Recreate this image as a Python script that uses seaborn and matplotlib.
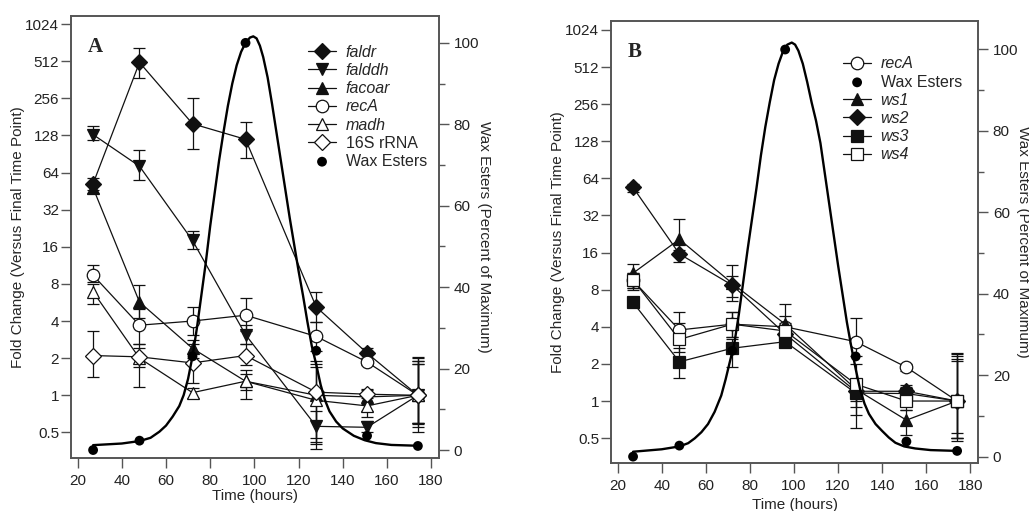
import matplotlib
matplotlib.use("Agg")
import matplotlib.pyplot as plt
import seaborn as sns
from matplotlib.ticker import NullLocator, MultipleLocator

# ---- data ----
HOURS = [27, 48, 72, 96, 128, 151, 174]

# panel A (fold change, value / lower / upper)
FALDR = [52, 500, 159, 119, 5.2, 2.2, 1.0]
FALDR_LO = [46, 375, 100, 84, 3.9, 2.0, 0.6]
FALDR_HI = [58, 660, 256, 165, 6.9, 2.4, 1.9]
FALDDH = [130, 72, 18, 3.1, 0.56, 0.55, 1.0]
FALDDH_LO = [117, 56, 15.3, 2.6, 0.37, 0.5, 0.55]
FALDDH_HI = [152, 97, 21.4, 3.7, 0.75, 0.62, 1.8]
FACOAR = [48, 5.7, 2.4, 1.3, 1.0, 0.97, 1.0]
FACOAR_LO = [44, 4.2, 2.0, 1.1, 0.42, 0.85, 0.5]
FACOAR_HI = [52, 7.9, 2.8, 1.5, 1.8, 1.1, 2.0]
RECA_A = [9.4, 3.7, 4.0, 4.46, 3.0, 1.86, 1.0]
RECA_A_LO = [8.3, 2.6, 3.1, 3.3, 2.3, 1.75, 0.6]
RECA_A_HI = [11.3, 5.0, 5.2, 6.1, 3.9, 2.0, 1.9]
MADH = [6.9, 2.0, 1.05, 1.3, 0.91, 0.82, 1.0]
MADH_LO = [5.5, 1.16, 0.95, 0.93, 0.4, 0.67, 0.58]
MADH_HI = [8.0, 2.6, 1.15, 1.6, 1.7, 0.95, 1.8]
RRNA = [2.1, 2.05, 1.83, 2.1, 1.06, 1.02, 1.0]
RRNA_LO = [1.4, 1.7, 1.25, 1.75, 0.45, 0.75, 0.6]
RRNA_HI = [3.3, 2.4, 2.6, 2.6, 1.9, 1.13, 2.04]

WAX_A = [0, 2.3, 23, 100, 24.4, 3.5, 1.0]
CURVE_A_T = [27, 40, 48, 53, 57, 60, 63, 66, 68, 70, 72, 74, 76, 78, 80, 82,
             84, 86, 88, 90, 92, 94, 96, 98, 99.5, 101, 102.5, 104, 106, 108,
             110, 112, 114, 116, 118, 120, 122, 124, 126, 128, 130, 132, 134,
             137, 140, 145, 150, 155, 162, 174]
CURVE_A_Y = [1.2, 1.6, 2.2, 3.0, 4.5, 6, 8.2, 10.8, 13.5, 17.5, 23, 30, 38,
             46, 55, 63, 71, 78, 84.5, 90, 94.5, 97.8, 100, 101.3, 101.6,
             101.1, 99.3, 96.5, 91.5, 85, 78, 71, 64, 57, 50.5, 44, 38, 31.5,
             25.5, 21, 16, 12.2, 9.5, 7, 5.3, 3.5, 2.4, 1.7, 1.25, 1.05]

# panel B
RECA_B = [9.5, 3.77, 4.2, 4.0, 3.03, 1.88, 1.0]
RECA_B_LO = [8.2, 2.9, 3.3, 3.3, 2.3, 1.75, 0.5]
RECA_B_HI = [11.0, 5.3, 5.3, 6.1, 4.7, 2.0, 2.44]
WS1 = [10.9, 20.5, 9.0, 4.2, 1.25, 0.7, 1.0]
WS1_LO = [8.0, 16.0, 6.5, 3.5, 0.77, 0.53, 0.5]
WS1_HI = [12.9, 29.8, 12.7, 4.9, 1.5, 0.85, 2.2]
WS2 = [54, 15.6, 8.7, 3.5, 1.2, 1.2, 1.0]
WS2_LO = [50, 13.3, 7.0, 3.2, 1.0, 1.05, 0.55]
WS2_HI = [58, 16.7, 10.3, 3.9, 1.5, 1.35, 2.3]
WS3 = [6.3, 2.08, 2.68, 3.03, 1.16, 1.15, 1.0]
WS3_LO = [5.8, 1.53, 1.9, 2.72, 0.9, 1.0, 0.47]
WS3_HI = [6.9, 2.7, 3.2, 3.4, 1.5, 1.3, 2.1]
WS4 = [9.6, 3.16, 4.2, 3.7, 1.37, 1.0, 1.0]
WS4_LO = [8.3, 2.5, 3.3, 3.3, 0.6, 0.85, 0.5]
WS4_HI = [11.0, 4.3, 5.3, 4.3, 2.0, 1.2, 2.4]

WAX_B = [0, 2.7, 26, 100, 24.6, 3.7, 1.4]
CURVE_B_T = [27, 40, 48, 52, 55, 58, 61, 64, 67, 69, 71, 73, 75, 77, 79, 81,
             83, 85, 87, 89, 91, 93, 95, 97, 99, 100.5, 102, 104, 106, 108,
             110, 112, 114, 116, 118, 120, 122, 124, 126, 128, 130, 132, 134,
             137, 140, 143, 146, 150, 155, 162, 174]
CURVE_B_Y = [1.2, 1.8, 2.5, 3.3, 4.5, 6, 8, 11, 15, 19, 23.5, 28, 35, 43, 51,
             58.5, 66, 74, 81, 87, 92.5, 96.5, 99.5, 101.2, 101.7, 101.2,
             99.7, 96.5, 92, 87, 82.5, 77, 69.5, 62, 54.5, 47, 40, 33, 27,
             21.5, 16.5, 13, 10.5, 8, 6.3, 4.7, 3.4, 2.5, 2.0, 1.6, 1.4]

FOLD_TICKS = [0.5, 1, 2, 4, 8, 16, 32, 64, 128, 256, 512, 1024]
FOLD_LABELS = ["0.5", "1", "2", "4", "8", "16", "32", "64", "128", "256", "512", "1024"]

INK = "#111111"
SPINE = "#555555"


def _series(ax, y, lo, hi, marker, filled, size):
    yerr = [[v - l for v, l in zip(y, lo)], [h - v for v, h in zip(y, hi)]]
    ax.errorbar(HOURS, y, yerr=yerr, fmt="none", ecolor=INK, elinewidth=0.9,
                capsize=4.5, capthick=0.9, zorder=1.5)
    sns.lineplot(x=HOURS, y=y, ax=ax, color=INK, lw=0.9, marker=marker,
                 markersize=size, markerfacecolor=INK if filled else "white",
                 markeredgecolor=INK, markeredgewidth=0.9, legend=False,
                 zorder=2, estimator=None, sort=False)
    return ax.lines[-1]


def _setup(ax, ax2, ylim, y2lim, xlab_y):
    ax.set_yscale("log", base=2)
    ax.set_ylim(*ylim)
    ax.set_yticks(FOLD_TICKS, FOLD_LABELS)
    ax.yaxis.set_minor_locator(NullLocator())
    ax.set_xlim(17, 183.6)
    ax.set_xticks(range(20, 181, 20))
    ax.set_xlabel("Time (hours)", fontsize=11, va="top")
    ax.xaxis.set_label_coords(0.5, xlab_y)
    ax.set_ylabel("Fold Change (Versus Final Time Point)", fontsize=11,
                  va="bottom")
    ax.yaxis.set_label_coords(-0.125, 0.5)
    ax2.set_ylim(*y2lim)
    ax2.yaxis.set_major_locator(MultipleLocator(20))
    ax2.yaxis.set_minor_locator(MultipleLocator(10))
    ax2.set_ylabel("Wax Esters (Percent of Maximum)", fontsize=11, rotation=270,
                   va="bottom")
    ax2.yaxis.set_label_coords(1.103, 0.5)
    for a in (ax, ax2):
        for sp in a.spines.values():
            sp.set_color(SPINE)
            sp.set_linewidth(1.2)
            sp.set_visible(True)
        a.tick_params(which="major", length=7.5, width=1.0, color=SPINE,
                      labelsize=11, labelcolor="#222222")
        a.tick_params(which="minor", length=4.3, width=1.0, color=SPINE)
        a.grid(False)
    ax.tick_params(axis="y", pad=1)
    ax.tick_params(axis="x", pad=4)
    ax2.tick_params(axis="y", pad=3)


def _wax(ax2, y, ct, cy):
    sns.lineplot(x=ct, y=cy, ax=ax2, color="black", lw=1.7, legend=False,
                 estimator=None, sort=False)
    sns.scatterplot(x=HOURS, y=y, ax=ax2, color="black", s=50, edgecolor="none",
                    legend=False, zorder=4)
    return ax2.collections[-1]


def _legend(ax2, handles, labels, italic, anchor):
    leg = ax2.legend(handles, labels, loc="upper left", bbox_to_anchor=anchor,
                     frameon=False, fontsize=11.5, borderpad=0, borderaxespad=0,
                     handlelength=1.75, handletextpad=0.6, labelspacing=0.2)
    for txt, it in zip(leg.get_texts(), italic):
        if it:
            txt.set_fontstyle("italic")


def main():
    sns.set_theme(style="ticks")
    plt.rcParams["font.family"] = ["Liberation Sans", "DejaVu Sans"]

    fig = plt.figure(figsize=(10.29, 5.11), dpi=100)
    ax_a = fig.add_axes([0.069, 0.1037, 0.3577, 0.865])
    ax_b = fig.add_axes([0.5938, 0.0945, 0.3569, 0.8644])

    # ---- panel A ----
    a2 = ax_a.twinx()
    h = [
        _series(ax_a, FALDR, FALDR_LO, FALDR_HI, "D", True, 8),
        _series(ax_a, FALDDH, FALDDH_LO, FALDDH_HI, "v", True, 9),
        _series(ax_a, FACOAR, FACOAR_LO, FACOAR_HI, "^", True, 9),
        _series(ax_a, RECA_A, RECA_A_LO, RECA_A_HI, "o", False, 9),
        _series(ax_a, MADH, MADH_LO, MADH_HI, "^", False, 9),
        _series(ax_a, RRNA, RRNA_LO, RRNA_HI, "D", False, 8),
    ]
    h.append(_wax(a2, WAX_A, CURVE_A_T, CURVE_A_Y))
    _setup(ax_a, a2, (0.31, 1190), (-1.96, 106.6), -0.07)
    _legend(a2, h, ["faldr", "falddh", "facoar", "recA", "madh", "16S rRNA",
                    "Wax Esters"],
            [True, True, True, True, True, False, False], (0.644, 0.935))
    ax_a.text(0.045, 0.919, "A", transform=ax_a.transAxes, fontsize=15,
              fontweight="bold", family="Liberation Serif", va="baseline")

    # ---- panel B ----
    b2 = ax_b.twinx()
    hr = _series(ax_b, RECA_B, RECA_B_LO, RECA_B_HI, "o", False, 9)
    h1 = _series(ax_b, WS1, WS1_LO, WS1_HI, "^", True, 9)
    h2 = _series(ax_b, WS2, WS2_LO, WS2_HI, "D", True, 8)
    h3 = _series(ax_b, WS3, WS3_LO, WS3_HI, "s", True, 8)
    h4 = _series(ax_b, WS4, WS4_LO, WS4_HI, "s", False, 8)
    hw = _wax(b2, WAX_B, CURVE_B_T, CURVE_B_Y)
    _setup(ax_b, b2, (0.316, 1209), (-1.5, 107), -0.08)
    _legend(b2, [hr, hw, h1, h2, h3, h4],
            ["recA", "Wax Esters", "ws1", "ws2", "ws3", "ws4"],
            [True, False, True, True, True, True], (0.632, 0.92))
    ax_b.text(0.044, 0.919, "B", transform=ax_b.transAxes, fontsize=15,
              fontweight="bold", family="Liberation Serif", va="baseline")

    fig.savefig("out.png", dpi=100)


if __name__ == "__main__":
    main()
